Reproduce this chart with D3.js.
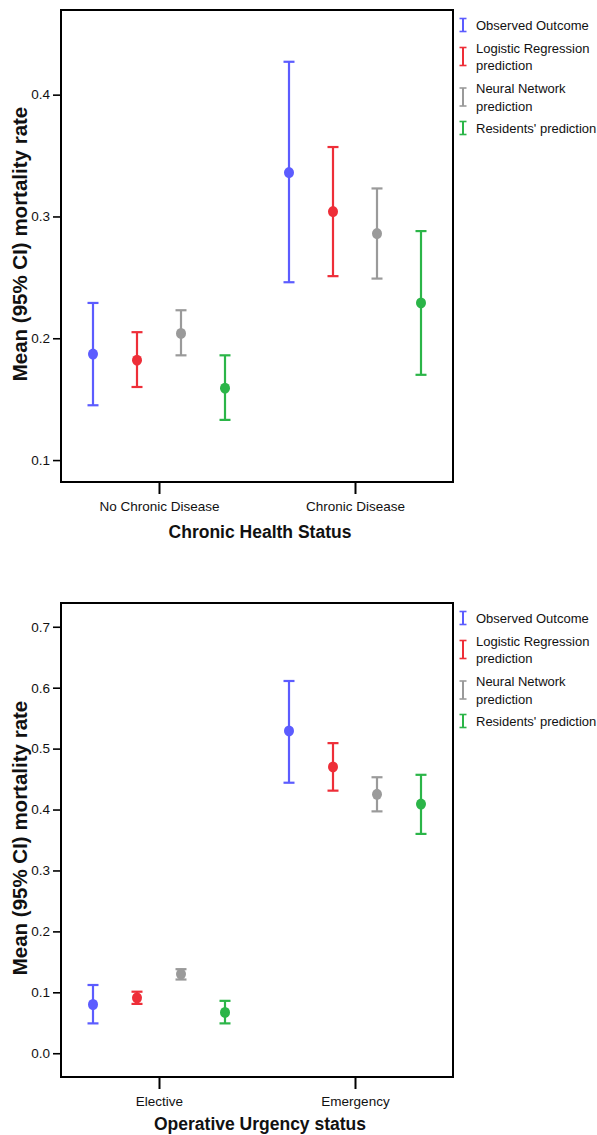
<!DOCTYPE html>
<html>
<head>
<meta charset="utf-8">
<script src="https://cdn.jsdelivr.net/npm/d3@7"></script>
<style>
  html, body { margin: 0; padding: 0; background: #fff; }
  svg { display: block; }
  text { font-family: "Liberation Sans", Arial, Helvetica, sans-serif; fill: #111; }
</style>
</head>
<body>
<svg id="chart" width="597" height="1135"></svg>
<script>
// ---------- data ----------
const seriesNames = ["Observed Outcome", "Logistic Regression prediction", "Neural Network prediction", "Residents' prediction"];
const legendLines = [["Observed Outcome"], ["Logistic Regression", "prediction"], ["Neural Network", "prediction"], ["Residents' prediction"]];
const seriesColors = ["#5c5cff", "#ee2e38", "#9a9a9a", "#2bb548"];

// Chart 1: Chronic Health Status
const chronicCategories = ["No Chronic Disease", "Chronic Disease"];
// rows = series (Observed, Logistic, Neural, Residents); cols = categories
const chronicMean  = [[0.187, 0.336], [0.182, 0.304], [0.204, 0.286], [0.159, 0.229]];
const chronicLower = [[0.145, 0.246], [0.160, 0.251], [0.186, 0.249], [0.133, 0.170]];
const chronicUpper = [[0.229, 0.427], [0.205, 0.357], [0.223, 0.323], [0.186, 0.288]];
const chronicTicks = [0.1, 0.2, 0.3, 0.4];
const chronicDomain = [0.082, 0.4695];

// Chart 2: Operative Urgency status
const urgencyCategories = ["Elective", "Emergency"];
const urgencyMean  = [[0.080, 0.529], [0.091, 0.470], [0.130, 0.425], [0.067, 0.409]];
const urgencyLower = [[0.049, 0.444], [0.081, 0.431], [0.121, 0.397], [0.049, 0.360]];
const urgencyUpper = [[0.112, 0.611], [0.101, 0.509], [0.138, 0.453], [0.086, 0.457]];
const urgencyTicks = [0.0, 0.1, 0.2, 0.3, 0.4, 0.5, 0.6, 0.7];
const urgencyDomain = [-0.039, 0.739];

const yTitle = "Mean (95% CI) mortality rate";

// ---------- drawing ----------
const svg = d3.select("#chart");

function drawPanel(cfg) {
  const { top, bottom, left, right, categories, mean, lower, upper, ticks, domain, xTitle, titleOffset } = cfg;
  const g = svg.append("g");

  const x = d3.scalePoint().domain(categories).range([left, right]).padding(0.5);
  const off = d3.scalePoint().domain(seriesNames).range([-66, 66]);
  const y = d3.scaleLinear().domain(domain).range([bottom, top]);

  // y axis
  const yAxis = g.append("g")
    .attr("transform", `translate(${left},0)`)
    .call(d3.axisLeft(y).tickValues(ticks).tickFormat(d3.format(".1f")).tickSize(8).tickPadding(3));
  yAxis.select(".domain").remove();
  yAxis.selectAll(".tick line").attr("stroke", "#000").attr("stroke-width", 1.6);
  yAxis.selectAll(".tick text").attr("font-size", 13.5).attr("fill", "#222")
    .style("font-family", "'Liberation Sans', Arial, sans-serif");

  // x axis
  const xAxis = g.append("g")
    .attr("transform", `translate(0,${bottom})`)
    .call(d3.axisBottom(x).tickSize(12).tickPadding(7));
  xAxis.select(".domain").remove();
  xAxis.selectAll(".tick line").attr("stroke", "#000").attr("stroke-width", 2);
  xAxis.selectAll(".tick text").attr("font-size", 13.5).attr("fill", "#222")
    .style("font-family", "'Liberation Sans', Arial, sans-serif");

  // frame
  g.append("rect")
    .attr("x", left).attr("y", top)
    .attr("width", right - left).attr("height", bottom - top)
    .attr("fill", "none").attr("stroke", "#000").attr("stroke-width", 2);

  // error bars
  const capHalf = 5.5;
  seriesNames.forEach((s, si) => {
    const sg = g.append("g").attr("class", "series");
    categories.forEach((c, ci) => {
      const cx = x(c) + off(s);
      const col = seriesColors[si];
      const yl = y(lower[si][ci]), yu = y(upper[si][ci]), ym = y(mean[si][ci]);
      sg.append("line").attr("x1", cx).attr("x2", cx).attr("y1", yu).attr("y2", yl)
        .attr("stroke", col).attr("stroke-width", 2.2);
      sg.append("line").attr("x1", cx - capHalf).attr("x2", cx + capHalf).attr("y1", yu).attr("y2", yu)
        .attr("stroke", col).attr("stroke-width", 2.2);
      sg.append("line").attr("x1", cx - capHalf).attr("x2", cx + capHalf).attr("y1", yl).attr("y2", yl)
        .attr("stroke", col).attr("stroke-width", 2.2);
      sg.append("ellipse").attr("cx", cx).attr("cy", ym).attr("rx", 5).attr("ry", 5.5)
        .attr("fill", col);
    });
  });

  // axis titles
  g.append("text")
    .attr("x", (left + right) / 2 + 3).attr("y", bottom + titleOffset)
    .attr("text-anchor", "middle")
    .attr("font-size", 17.5).attr("font-weight", "bold").attr("fill", "#111")
    .text(xTitle);

  g.append("text")
    .attr("transform", `translate(27,${(top + bottom) / 2 - 2}) rotate(-90)`)
    .attr("text-anchor", "middle")
    .attr("font-size", 20.5).attr("font-weight", "bold").attr("fill", "#111")
    .text(yTitle);

  // legend
  const lg = g.append("g").attr("transform", `translate(0,${top})`);
  const itemLineY = [[15], [38, 55], [78, 96], [118]];
  seriesNames.forEach((s, si) => {
    const lines = legendLines[si];
    const ys = itemLineY[si];
    const cy = (ys[0] + ys[ys.length - 1]) / 2;
    const h = lines.length > 1 ? 18 : 13;
    const mx = 463;
    const col = seriesColors[si];
    lg.append("line").attr("x1", mx).attr("x2", mx).attr("y1", cy - h / 2).attr("y2", cy + h / 2)
      .attr("stroke", col).attr("stroke-width", 2);
    lg.append("line").attr("x1", mx - 3.5).attr("x2", mx + 3.5).attr("y1", cy - h / 2).attr("y2", cy - h / 2)
      .attr("stroke", col).attr("stroke-width", 1.6);
    lg.append("line").attr("x1", mx - 3.5).attr("x2", mx + 3.5).attr("y1", cy + h / 2).attr("y2", cy + h / 2)
      .attr("stroke", col).attr("stroke-width", 1.6);
    lines.forEach((t, li) => {
      lg.append("text").attr("x", 476).attr("y", ys[li]).attr("dy", "0.35em")
        .attr("font-size", 13).attr("fill", "#222").text(t);
    });
  });
}

drawPanel({
  top: 10, bottom: 482, left: 61, right: 453,
  categories: chronicCategories, mean: chronicMean, lower: chronicLower, upper: chronicUpper,
  ticks: chronicTicks, domain: chronicDomain, xTitle: "Chronic Health Status", titleOffset: 56
});

drawPanel({
  top: 603, bottom: 1077, left: 61, right: 453,
  categories: urgencyCategories, mean: urgencyMean, lower: urgencyLower, upper: urgencyUpper,
  ticks: urgencyTicks, domain: urgencyDomain, xTitle: "Operative Urgency status", titleOffset: 53
});
</script>
</body>
</html>
